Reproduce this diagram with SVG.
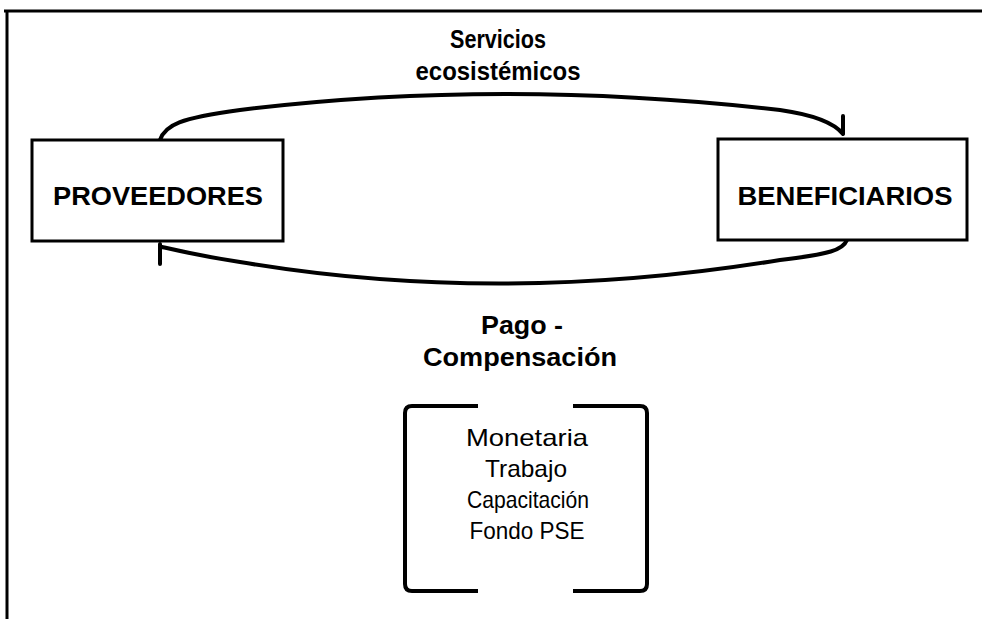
<svg xmlns="http://www.w3.org/2000/svg" width="982" height="619" viewBox="0 0 982 619">
<style>
.frame{fill:none;stroke:#000;stroke-width:3}
.box{fill:#fff;stroke:#000;stroke-width:3}
.arc{fill:none;stroke:#000;stroke-width:4;stroke-linecap:round;stroke-linejoin:round}
.br{fill:none;stroke:#000;stroke-width:4;stroke-linecap:butt;stroke-linejoin:round}
.lb{font-family:"Liberation Sans",Arial,sans-serif;font-weight:bold;font-size:25px;text-anchor:middle;fill:#000}
.it{font-family:"Liberation Sans",Arial,sans-serif;font-size:24px;text-anchor:middle;fill:#000}
</style>
<rect width="982" height="619" fill="#fff"/>
<path class="frame" d="M4,11 H982 M7,11 V619"/>
<g id="connectors">
<path class="arc" d="M160,140 C165,125 180,118 240,110 Q500,78 780,110 C815,115 835,124 843,134 M843,116 V134"/>
<path class="arc" d="M847,240 C843,250 830,254 780,260 Q500,306 240,262 C200,256 175,250 162,247 M160,244 V264"/>
</g>
<g id="proveedores">
<rect class="box" x="32" y="140" width="251" height="101"/>
<text class="lb" x="158" y="205" textLength="210" lengthAdjust="spacingAndGlyphs">PROVEEDORES</text>
</g>
<g id="beneficiarios">
<rect class="box" x="718" y="139" width="249" height="101"/>
<text class="lb" x="845" y="205" textLength="215" lengthAdjust="spacingAndGlyphs">BENEFICIARIOS</text>
</g>
<g id="label-servicios">
<text class="lb" x="498" y="48" textLength="96" lengthAdjust="spacingAndGlyphs">Servicios</text>
<text class="lb" x="498" y="80" textLength="165" lengthAdjust="spacingAndGlyphs">ecosistémicos</text>
</g>
<g id="label-pago">
<text class="lb" x="522" y="334" textLength="82" lengthAdjust="spacingAndGlyphs">Pago -</text>
<text class="lb" x="520" y="366" textLength="194" lengthAdjust="spacingAndGlyphs">Compensación</text>
</g>
<g id="tipos">
<path class="br" d="M478,406 H412 Q405,406 405,413 V584 Q405,591 412,591 H478"/>
<path class="br" d="M573,406 H640 Q647,406 647,413 V584 Q647,591 640,591 H573"/>
<text class="it" x="527" y="446" textLength="122" lengthAdjust="spacingAndGlyphs">Monetaria</text>
<text class="it" x="526" y="477" textLength="82" lengthAdjust="spacingAndGlyphs">Trabajo</text>
<text class="it" x="528" y="508" textLength="122" lengthAdjust="spacingAndGlyphs">Capacitación</text>
<text class="it" x="527" y="539" textLength="115" lengthAdjust="spacingAndGlyphs">Fondo PSE</text>
</g>
</svg>
